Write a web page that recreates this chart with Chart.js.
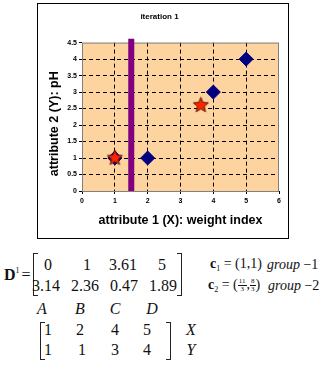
<!DOCTYPE html>
<html>
<head>
<meta charset="utf-8">
<script src="https://cdn.jsdelivr.net/npm/chart.js@4.4.1/dist/chart.umd.min.js"></script>
<style>
  body { margin: 0; background: #fff; }
  #page { position: relative; width: 327px; height: 365px; overflow: hidden; }
  #frame { position: absolute; left: 37px; top: 3px; width: 252px; height: 236px;
           border: 1px solid #000; box-sizing: border-box; }
  .t { position: absolute; transform: translate(-50%, -50%); white-space: nowrap; line-height: 1;
       font-family: "Liberation Serif", serif; font-size: 16px; color: #111; }
  .l { position: absolute; transform: translateY(-50%); white-space: nowrap; line-height: 1;
       font-family: "Liberation Serif", serif; font-size: 15px; color: #111; }
  .s { font-size: 14px; }
  .br { position: absolute; border: 1.3px solid #222; width: 4px; }
  .br.left { border-right: none; }
  .br.right { border-left: none; }
  .fr { display: inline-block; vertical-align: middle; text-align: center; font-size: 7px; line-height: 1; }
  .fr span { display: block; padding: 0 1px; }
  .fr span + span { border-top: 1px solid #111; }
  .sb { font-size: 8px; vertical-align: -3px; }
  .sp { font-size: 8px; vertical-align: 7px; }
</style>
</head>
<body>
<div id="page">
  <div id="frame"><canvas id="c" width="250" height="234"></canvas></div>

  <!-- distance matrix -->
  <span class="l" style="left:4px; top:275px; font-size:16px;"><b>D</b><span class="sp">1</span><span style="margin-left:2px;">=</span></span>
  <div class="br left" style="left:33px; top:253px; height:41px;"></div>
  <div class="br right" style="left:177px; top:253px; height:41px;"></div>
  <span class="t" style="left:48px; top:265px;">0</span>
  <span class="t" style="left:87px; top:265px;">1</span>
  <span class="t" style="left:123px; top:265px;">3.61</span>
  <span class="t" style="left:162px; top:265px;">5</span>
  <span class="t" style="left:46px; top:286px;">3.14</span>
  <span class="t" style="left:85px; top:286px;">2.36</span>
  <span class="t" style="left:124px; top:286px;">0.47</span>
  <span class="t" style="left:163px; top:286px;">1.89</span>

  <span class="l s" style="left:210px; top:265px;"><b>c</b><span class="sb">1</span> = (1,1)</span>
  <span class="l s" style="left:267px; top:265px;"><i>group</i> −1</span>
  <span class="l s" style="left:208px; top:286px;"><b>c</b><span class="sb">2</span> = (<span class="fr"><span>11</span><span>3</span></span>,<span class="fr"><span>8</span><span>3</span></span>)</span>
  <span class="l s" style="left:268px; top:286px;"><i>group</i> −2</span>

  <span class="t" style="left:42px; top:309px;"><i>A</i></span>
  <span class="t" style="left:80px; top:309px;"><i>B</i></span>
  <span class="t" style="left:115px; top:309px;"><i>C</i></span>
  <span class="t" style="left:152px; top:309px;"><i>D</i></span>

  <!-- object coordinates -->
  <div class="br left" style="left:40px; top:322px; height:36px;"></div>
  <div class="br right" style="left:166px; top:322px; height:36px;"></div>
  <span class="t" style="left:48px; top:330px;">1</span>
  <span class="t" style="left:80px; top:330px;">2</span>
  <span class="t" style="left:115px; top:330px;">4</span>
  <span class="t" style="left:147px; top:330px;">5</span>
  <span class="t" style="left:48px; top:350px;">1</span>
  <span class="t" style="left:82px; top:350px;">1</span>
  <span class="t" style="left:115px; top:350px;">3</span>
  <span class="t" style="left:147px; top:350px;">4</span>
  <span class="t" style="left:191px; top:330px;"><i>X</i></span>
  <span class="t" style="left:191px; top:350px;"><i>Y</i></span>
</div>

<script>
// objects A..D (weight index, pH)
var objX = [1, 2, 4, 5];
var objY = [1, 1, 3, 4];
// centroids c1, c2
var centX = [1, 3.62];
var centY = [1, 2.6];
// group boundary
var lineX = [1.5, 1.5];
var lineY = [0, 4.62];

function pts(xs, ys) {
    return xs.map(function (x, i) { return {x: x, y: ys[i]}; });
}

function makeStar(r) {
    var s = Math.ceil(r * 2 + 3);
    var c = document.createElement('canvas');
    c.width = s; c.height = s;
    var g = c.getContext('2d');
    g.beginPath();
    for (var i = 0; i < 10; i++) {
        var rad = (i % 2) ? r * 0.45 : r;
        var a = -Math.PI / 2 + i * Math.PI / 5;
        g.lineTo(s / 2 + rad * Math.cos(a), s / 2 + rad * Math.sin(a));
    }
    g.closePath();
    g.fillStyle = '#ff2200';
    g.fill();
    g.strokeStyle = '#5a1a00';
    g.lineWidth = 1;
    g.stroke();
    return c;
}

var plotBg = {
    id: 'plotBg',
    beforeDraw: function (chart) {
        var a = chart.chartArea, ctx = chart.ctx;
        ctx.save();
        ctx.fillStyle = '#fdd3a0';
        ctx.fillRect(a.left, a.top, a.right - a.left, a.bottom - a.top);
        ctx.restore();
    },
    beforeDatasetsDraw: function (chart) {
        var a = chart.chartArea, ctx = chart.ctx;
        ctx.save();
        ctx.strokeStyle = '#808080';
        ctx.lineWidth = 1;
        ctx.strokeRect(a.left + 0.5, a.top + 0.5, a.right - a.left - 1, a.bottom - a.top);
        ctx.restore();
    }
};

var tickFont = {family: 'Arial, "Liberation Sans"', size: 7, weight: 'bold'};
var titleFont = {family: 'Arial, "Liberation Sans"', size: 12.5, weight: 'bold'};

function edgeColor(min, max) {
    return function (ctx) {
        var v = ctx.tick ? ctx.tick.value : null;
        return (v === min || v === max) ? 'rgba(0,0,0,0)' : '#000';
    };
}

new Chart(document.getElementById('c'), {
    type: 'scatter',
    data: {
        datasets: [
            {
                data: pts(centX, centY),
                pointStyle: makeStar(8),
                pointRadius: 8,
                order: 0
            },
            {
                data: pts(objX, objY),
                pointStyle: 'rectRot',
                pointRadius: 7,
                backgroundColor: '#000080',
                borderColor: '#000080',
                borderWidth: 1,
                order: 1
            },
            {
                data: pts(lineX, lineY),
                showLine: true,
                borderColor: '#800080',
                borderWidth: 6,
                pointRadius: 0,
                clip: false,
                order: 2
            }
        ]
    },
    options: {
        responsive: false,
        animation: false,
        events: [],
        layout: { padding: {left: 0, right: 7, top: 0, bottom: 7} },
        plugins: {
            legend: { display: false },
            tooltip: { enabled: false },
            title: {
                display: true,
                text: 'iteration 1',
                color: '#000',
                font: {family: 'Arial, "Liberation Sans"', size: 8, weight: 'bold'},
                padding: {top: 8, bottom: 21}
            }
        },
        scales: {
            x: {
                type: 'linear',
                min: 0, max: 6,
                ticks: { stepSize: 1, color: '#000', font: tickFont, padding: 3,
                         callback: function (v) { return String(v); } },
                grid: { color: edgeColor(0, 6), tickLength: 3, tickColor: '#000', tickBorderDash: [] },
                border: { display: false, dash: [4, 3] },
                title: { display: true, text: 'attribute 1 (X): weight index', color: '#000',
                         font: titleFont, padding: {top: 2, bottom: 2.5} },
                afterFit: function (s) { s.height = 40; }
            },
            y: {
                type: 'linear',
                min: 0, max: 4.5,
                ticks: { stepSize: 0.5, color: '#000', font: tickFont, padding: 2,
                         callback: function (v) { return String(v); } },
                grid: { color: edgeColor(0, 4.5), tickLength: 3, tickColor: '#000', tickBorderDash: [] },
                border: { display: false, dash: [4, 3] },
                title: { display: true, text: 'attribute 2 (Y): pH    ', color: '#000',
                         font: titleFont, padding: {top: 9.5, bottom: 2} },
                afterFit: function (s) { s.width = 44; }
            }
        }
    },
    plugins: [plotBg]
});
</script>
</body>
</html>
